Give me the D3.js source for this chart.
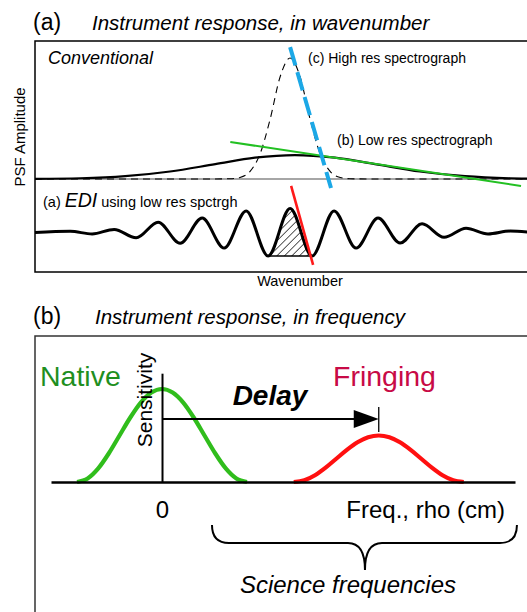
<!DOCTYPE html>
<html>
<head>
<meta charset="utf-8">
<script src="https://cdn.jsdelivr.net/npm/d3@7"></script>
<style>
  html, body { margin: 0; padding: 0; background: #fff; }
  svg { display: block; font-family: "Liberation Sans", Arial, Helvetica, sans-serif; }
</style>
</head>
<body>
<svg id="fig" width="527" height="612"></svg>
<script>
// ---------- Panel (a): instrument response in wavenumber ----------
// wavenumber offset from the line centre, in units of one fringe period
const lowResX = [-5.8, -4.77, -3.75, -2.73, -1.7, -0.8, 0.11, 1.02, 1.93, 2.95, 3.98, 5.0, 5.4];
const lowResY = [0.001, 0.006, 0.023, 0.062, 0.123, 0.176, 0.198, 0.176, 0.123, 0.062, 0.023, 0.006, 0.003];

const highResX = [-5.8, -2, -1.36, -1.14, -0.91, -0.68, -0.45, -0.23, 0, 0.23, 0.45, 0.68, 0.91, 1.14, 1.36, 2, 5.4];
const highResY = [0, 0, 0.002, 0.013, 0.063, 0.211, 0.5, 0.841, 1, 0.841, 0.5, 0.211, 0.063, 0.013, 0.002, 0, 0];

// slopes of the two PSF flanks (endpoints of the tangent lines)
const lowResSlope  = [[-1.36, 0.306], [5.25, -0.058]];
const highResSlope = [[0, 1.09], [0.93, -0.074]];

// EDI fringe: extrema of the fringing PSF
const fringeX = [-5.8, -5, -4.5, -4, -3.5, -3, -2.5, -2, -1.5, -1, -0.5, 0, 0.5, 1, 1.5, 2, 2.5, 3, 3.5, 4, 4.5, 5, 5.4];
const fringeY = [0, 0.05, -0.06, 0.13, -0.22, 0.43, -0.45, 0.6, -0.65, 0.9, -0.98, 1.0, -0.98, 0.9, -0.65, 0.6, -0.44, 0.36, -0.2, 0.18, -0.06, 0.06, 0.02];
const ediSlope = [[0.023, 1.94], [0.523, -1.35]];
const hatchFrom = -0.5;

// ---------- Panel (b): instrument response in frequency ----------
const bandU = [-1, -0.875, -0.75, -0.625, -0.5, -0.375, -0.25, -0.125, 0, 0.125, 0.25, 0.375, 0.5, 0.625, 0.75, 0.875, 1];
const bandShape = [0, 0.038, 0.146, 0.309, 0.5, 0.691, 0.854, 0.962, 1, 0.962, 0.854, 0.691, 0.5, 0.309, 0.146, 0.038, 0];
const nativeCenter = 0, nativePeak = 1.0;
const delay = 2.55, fringingPeak = 0.5;
const arrowLevel = 0.677;
const freqDomain = [-1.306, 4.153];
const sensitivityTop = 1.17;
const scienceBand = [0.588, 4.176];
const scienceTip = 2.388;
const freqTicks = [0];

const svg = d3.select("#fig");

// defs: hatch pattern and clip for the hatched fringe lobe
const defs = svg.append("defs");
const pat = defs.append("pattern")
  .attr("id", "hatch").attr("patternUnits", "userSpaceOnUse")
  .attr("width", 5.3).attr("height", 5.3)
  .attr("patternTransform", "rotate(45)");
pat.append("line").attr("x1", 0).attr("y1", 0).attr("x2", 0).attr("y2", 5.3)
  .attr("stroke", "#000").attr("stroke-width", 1.3);

// ---------- Panel (a) ----------
svg.append("text").attr("x", 33).attr("y", 30).attr("font-size", 23).text("(a)");
svg.append("text").attr("x", 92).attr("y", 30).attr("font-size", 20.5).attr("font-style", "italic")
  .text("Instrument response, in wavenumber");

const xW = d3.scaleLinear().domain([-5.8, 5.386]).range([35, 527]);
const yConv = d3.scaleLinear().domain([0, 1]).range([179, 58]);
const yEdi = d3.scaleLinear().domain([-1, 1]).range([256.5, 208.5]);

const boxA = svg.append("g");
boxA.append("rect").attr("x", 35).attr("y", 41).attr("width", 620).attr("height", 231)
  .attr("fill", "none").attr("stroke", "#000").attr("stroke-width", 1.5);

svg.append("text").attr("transform", "translate(25,137) rotate(-90)")
  .attr("text-anchor", "middle").attr("font-size", 15).text("PSF Amplitude");
svg.append("text").attr("x", 300).attr("y", 286).attr("text-anchor", "middle")
  .attr("font-size", 14.5).text("Wavenumber");

svg.append("text").attr("x", 48).attr("y", 64).attr("font-size", 18).attr("font-style", "italic").text("Conventional");
svg.append("text").attr("x", 308).attr("y", 63).attr("font-size", 14).text("(c) High res spectrograph");
svg.append("text").attr("x", 337).attr("y", 145).attr("font-size", 14).text("(b) Low res spectrograph");

const ediLabel = svg.append("text").attr("x", 43).attr("y", 207).attr("font-size", 14.5);
ediLabel.append("tspan").text("(a) ");
ediLabel.append("tspan").attr("font-size", 19.5).attr("font-style", "italic").text("EDI");
ediLabel.append("tspan").text(" using low res spctrgh");

const line = d3.line().x(d => xW(d[0])).curve(d3.curveMonotoneX);

// zero level
svg.append("line").attr("x1", xW.range()[0]).attr("x2", xW.range()[1])
  .attr("y1", yConv(0)).attr("y2", yConv(0)).attr("stroke", "#888").attr("stroke-width", 1.5);

// high-resolution PSF (dashed)
svg.append("path").datum(d3.zip(highResX, highResY))
  .attr("d", line.y(d => yConv(d[1])))
  .attr("fill", "none").attr("stroke", "#000").attr("stroke-width", 1.1).attr("stroke-dasharray", "7,5");

// low-resolution PSF (solid)
svg.append("path").datum(d3.zip(lowResX, lowResY))
  .attr("d", line.y(d => yConv(d[1])))
  .attr("fill", "none").attr("stroke", "#000").attr("stroke-width", 2.2);

// flank slopes
svg.append("line")
  .attr("x1", xW(lowResSlope[0][0])).attr("y1", yConv(lowResSlope[0][1]))
  .attr("x2", xW(lowResSlope[1][0])).attr("y2", yConv(lowResSlope[1][1]))
  .attr("stroke", "#22c022").attr("stroke-width", 2);
svg.append("line")
  .attr("x1", xW(highResSlope[0][0])).attr("y1", yConv(highResSlope[0][1]))
  .attr("x2", xW(highResSlope[1][0])).attr("y2", yConv(highResSlope[1][1]))
  .attr("stroke", "#1ca8e6").attr("stroke-width", 4).attr("stroke-dasharray", "19,7");

// EDI fringe with hatched lobe
const fringe = d3.zip(fringeX, fringeY);
const rx1 = xW(ediSlope[0][0]), ry1 = yEdi(ediSlope[0][1]);
const rx2 = xW(ediSlope[1][0]), ry2 = yEdi(ediSlope[1][1]);
const redXAt = y => rx1 + (y - ry1) / (ry2 - ry1) * (rx2 - rx1);
const troughY = yEdi(-0.98);
const clipTop = yEdi(1.5);
defs.append("clipPath").attr("id", "lobeClip").append("polygon")
  .attr("points", [
    [xW(hatchFrom), clipTop], [redXAt(clipTop), clipTop],
    [redXAt(troughY), troughY], [xW(hatchFrom), troughY]
  ].map(p => p.join(",")).join(" "));

svg.append("path").datum(fringe)
  .attr("d", d3.area().x(d => xW(d[0])).y0(troughY).y1(d => yEdi(d[1])).curve(d3.curveMonotoneX))
  .attr("fill", "url(#hatch)").attr("clip-path", "url(#lobeClip)");
svg.append("line").attr("x1", xW(hatchFrom)).attr("x2", redXAt(troughY))
  .attr("y1", troughY).attr("y2", troughY).attr("stroke", "#000").attr("stroke-width", 1.5);

svg.append("path").datum(fringe)
  .attr("d", line.y(d => yEdi(d[1])))
  .attr("fill", "none").attr("stroke", "#000").attr("stroke-width", 3);

svg.append("line").attr("x1", rx1).attr("y1", ry1).attr("x2", rx2).attr("y2", ry2)
  .attr("stroke", "#ff1a1a").attr("stroke-width", 2.6);

// ---------- Panel (b) ----------
svg.append("text").attr("x", 33).attr("y", 324).attr("font-size", 23).text("(b)");
svg.append("text").attr("x", 95).attr("y", 324).attr("font-size", 20.5).attr("font-style", "italic")
  .text("Instrument response, in frequency");

svg.append("rect").attr("x", 35).attr("y", 336).attr("width", 620).attr("height", 400)
  .attr("fill", "none").attr("stroke", "#333").attr("stroke-width", 1.5);

const xF = d3.scaleLinear().domain(freqDomain).range([51, 515]);
const yS = d3.scaleLinear().domain([0, 1]).range([482, 389]);

// response bands
const bandLine = (center, peak) => d3.line()
  .x(d => xF(center + d[0])).y(d => yS(peak * d[1])).curve(d3.curveMonotoneX)(d3.zip(bandU, bandShape));
svg.append("path").attr("d", bandLine(nativeCenter, nativePeak))
  .attr("fill", "none").attr("stroke", "#30bd1c").attr("stroke-width", 4.2);
svg.append("path").attr("d", bandLine(delay, fringingPeak))
  .attr("fill", "none").attr("stroke", "#ff1010").attr("stroke-width", 4.2);

// frequency axis
const fAxis = svg.append("g").attr("transform", `translate(0,${yS(0)})`)
  .call(d3.axisBottom(xF).tickValues(freqTicks).tickSize(0).tickSizeOuter(0).tickPadding(19).tickFormat(d3.format("d")));
fAxis.select(".domain").attr("stroke", "#000").attr("stroke-width", 2.5);
fAxis.selectAll("text").attr("font-size", 24).attr("fill", "#000")
  .attr("font-family", "Liberation Sans, Arial, sans-serif");

// sensitivity axis
const yAxisScale = d3.scaleLinear().domain([0, sensitivityTop]).range([yS(0), yS(sensitivityTop)]);
const sAxis = svg.append("g").attr("transform", `translate(${xF(0)},0)`)
  .call(d3.axisLeft(yAxisScale).tickValues([]).tickSizeOuter(0));
sAxis.select(".domain").attr("stroke", "#000").attr("stroke-width", 2);

svg.append("text").attr("transform", `translate(${xF(0) - 10},400) rotate(-90)`)
  .attr("text-anchor", "middle").attr("font-size", 21).text("Sensitivity");

// delay arrow
const ay = yS(arrowLevel);
const tipX = xF(delay);
svg.append("line").attr("x1", xF(0)).attr("x2", tipX - 20).attr("y1", ay).attr("y2", ay)
  .attr("stroke", "#000").attr("stroke-width", 2);
svg.append("path").attr("d", `M${tipX},${ay} L${tipX - 25},${ay - 9} L${tipX - 25},${ay + 9} Z`).attr("fill", "#000");
svg.append("line").attr("x1", tipX).attr("x2", tipX).attr("y1", ay - 12).attr("y2", ay + 13)
  .attr("stroke", "#000").attr("stroke-width", 1.3);

svg.append("text").attr("x", 270).attr("y", 405).attr("text-anchor", "middle")
  .attr("font-size", 28).attr("font-weight", "bold").attr("font-style", "italic").text("Delay");
svg.append("text").attr("x", 40).attr("y", 386).attr("font-size", 28.5).attr("fill", "#1f8f1f").text("Native");
svg.append("text").attr("x", 333).attr("y", 386).attr("font-size", 28.5).attr("fill", "#c80a46").text("Fringing");

svg.append("text").attr("x", 505).attr("y", 518).attr("text-anchor", "end").attr("font-size", 24).text("Freq., rho (cm)");

// science-frequency brace
const bx0 = xF(scienceBand[0]), bx1 = xF(scienceBand[1]), bt = xF(scienceTip);
const by0 = 525, by1 = 543, byTip = 570, r = 17;
svg.append("path")
  .attr("d", `M${bx0},${by0} Q${bx0},${by1} ${bx0 + r},${by1} L${bt - r},${by1} Q${bt},${by1} ${bt},${byTip} Q${bt},${by1} ${bt + r},${by1} L${bx1 - r},${by1} Q${bx1},${by1} ${bx1},${by0}`)
  .attr("fill", "none").attr("stroke", "#000").attr("stroke-width", 2);
svg.append("text").attr("x", 348).attr("y", 593).attr("text-anchor", "middle")
  .attr("font-size", 24).attr("font-style", "italic").text("Science frequencies");
</script>
</body>
</html>
